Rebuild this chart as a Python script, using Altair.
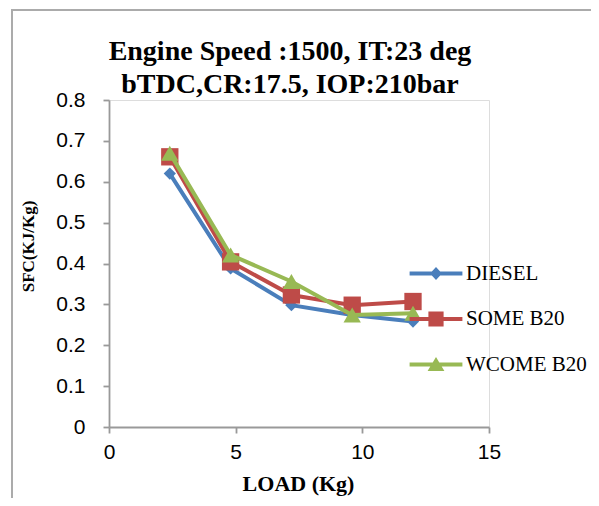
import altair as alt
import pandas as pd

# ---- data ----
series = ["DIESEL", "SOME B20", "WCOME B20"]
load = [2.4, 4.8, 7.2, 9.6, 12.0]
diesel = [0.62, 0.388, 0.298, 0.274, 0.258]
some_b20 = [0.661, 0.404, 0.323, 0.298, 0.307]
wcome_b20 = [0.67, 0.421, 0.356, 0.274, 0.278]
x_ticks = [0, 5, 10, 15]
y_ticks = [0, 0.1, 0.2, 0.3, 0.4, 0.5, 0.6, 0.7, 0.8]

colors = ["#4A7EBB", "#BE4B48", "#98B954"]
point_shapes = ["diamond", "square", "triangle-up"]
point_sizes = [150, 300, 300]
# legend symbols: a line segment with the marker on it
bar = "M-3.3,-0.25H3.3V0.25H-3.3Z"
legend_paths = [
    bar + " M0,-0.8L0.75,0L0,0.8L-0.75,0Z",
    bar + " M-0.95,-0.95H0.95V0.95H-0.95Z",
    bar + " M0,-0.95L1.05,0.8L-1.05,0.8Z",
]

rows = []
for name, vals in zip(series, [diesel, some_b20, wcome_b20]):
    for xv, yv in zip(load, vals):
        rows.append({"series": name, "load": xv, "sfc": yv})
df = pd.DataFrame(rows)

serif = "Liberation Serif"
tickfont = "Liberation Sans"

x_enc = alt.X(
    "load:Q",
    scale=alt.Scale(domain=[0, 15], nice=False, zero=True),
    axis=alt.Axis(
        values=x_ticks, grid=False, title="LOAD (Kg)", labelFlush=False,
        titleFont=serif, titleFontSize=22, titleFontWeight="bold", titleColor="black",
        titleX=189, titleY=63, titleAlign="center", titleBaseline="alphabetic",
        labelFont=tickfont, labelFontSize=21, labelColor="black", labelPadding=8,
        tickSize=6, domainColor="#999999", tickColor="#999999",
        domainWidth=1.8, tickWidth=1.8,
    ),
)
y_enc = alt.Y(
    "sfc:Q",
    scale=alt.Scale(domain=[0, 0.8], nice=False, zero=True),
    axis=alt.Axis(
        values=y_ticks, format="~g", grid=False, title="SFC(KJ/Kg)", labelFlush=False,
        titleFont=serif, titleFontSize=17, titleFontWeight="bold", titleColor="black",
        titleX=-81, titleY=146, titleAlign="center", titleBaseline="middle", titleAngle=270,
        labelFont=tickfont, labelFontSize=21, labelColor="black", labelPadding=18,
        tickSize=6, domainColor="#999999", tickColor="#999999",
        domainWidth=1.8, tickWidth=1.8,
    ),
)

layers = []
# frame around the whole chart (decoration)
frame = alt.Chart(alt.Data(values=[{}])).mark_rect(
    fill=None, stroke="#ababab", strokeWidth=2
).encode(
    x=alt.value(-97), x2=alt.value(500), y=alt.value(-90), y2=alt.value(420)
)
layers.append(frame)

for name, col, shp, sz in zip(series, colors, point_shapes, point_sizes):
    base = alt.Chart(df).transform_filter(alt.datum.series == name)
    layers.append(base.mark_line(color=col, strokeWidth=4).encode(x=x_enc, y=y_enc))
    layers.append(base.mark_point(filled=True, color=col, shape=shp, size=sz, opacity=1).encode(x=x_enc, y=y_enc))

leg = alt.Legend(title=None, orient="none", legendX=316.5, legendY=163,
                 symbolSize=256, symbolStrokeWidth=0, labelOffset=19.5,
                 labelFont=serif, labelFontSize=21, labelColor="black",
                 rowPadding=23.5, padding=0, symbolOpacity=1, labelLimit=200)
legend_layer = alt.Chart(df).mark_point(filled=True, opacity=0).encode(
    x=x_enc, y=y_enc,
    color=alt.Color("series:N", scale=alt.Scale(domain=series, range=colors), legend=leg),
    shape=alt.Shape("series:N", scale=alt.Scale(domain=series, range=legend_paths), legend=leg),
)
layers.append(legend_layer)

chart = alt.layer(*layers).properties(
    width=380, height=327,
    title=alt.TitleParams(
        ["Engine Speed :1500, IT:23 deg", "bTDC,CR:17.5, IOP:210bar"],
        font=serif, fontSize=28, fontWeight="bold", color="black",
        anchor="middle", frame="group", dx=-9, dy=118, offset=0, lineHeight=33, baseline="bottom",
    ),
    autosize=alt.AutoSizeParams(type="none"),
    padding={"left": 101, "top": 92, "right": 102, "bottom": 71},
).configure_view(stroke=None).configure(background="white")

chart.save("out.html", embed_options={"renderer": "svg", "actions": False})
